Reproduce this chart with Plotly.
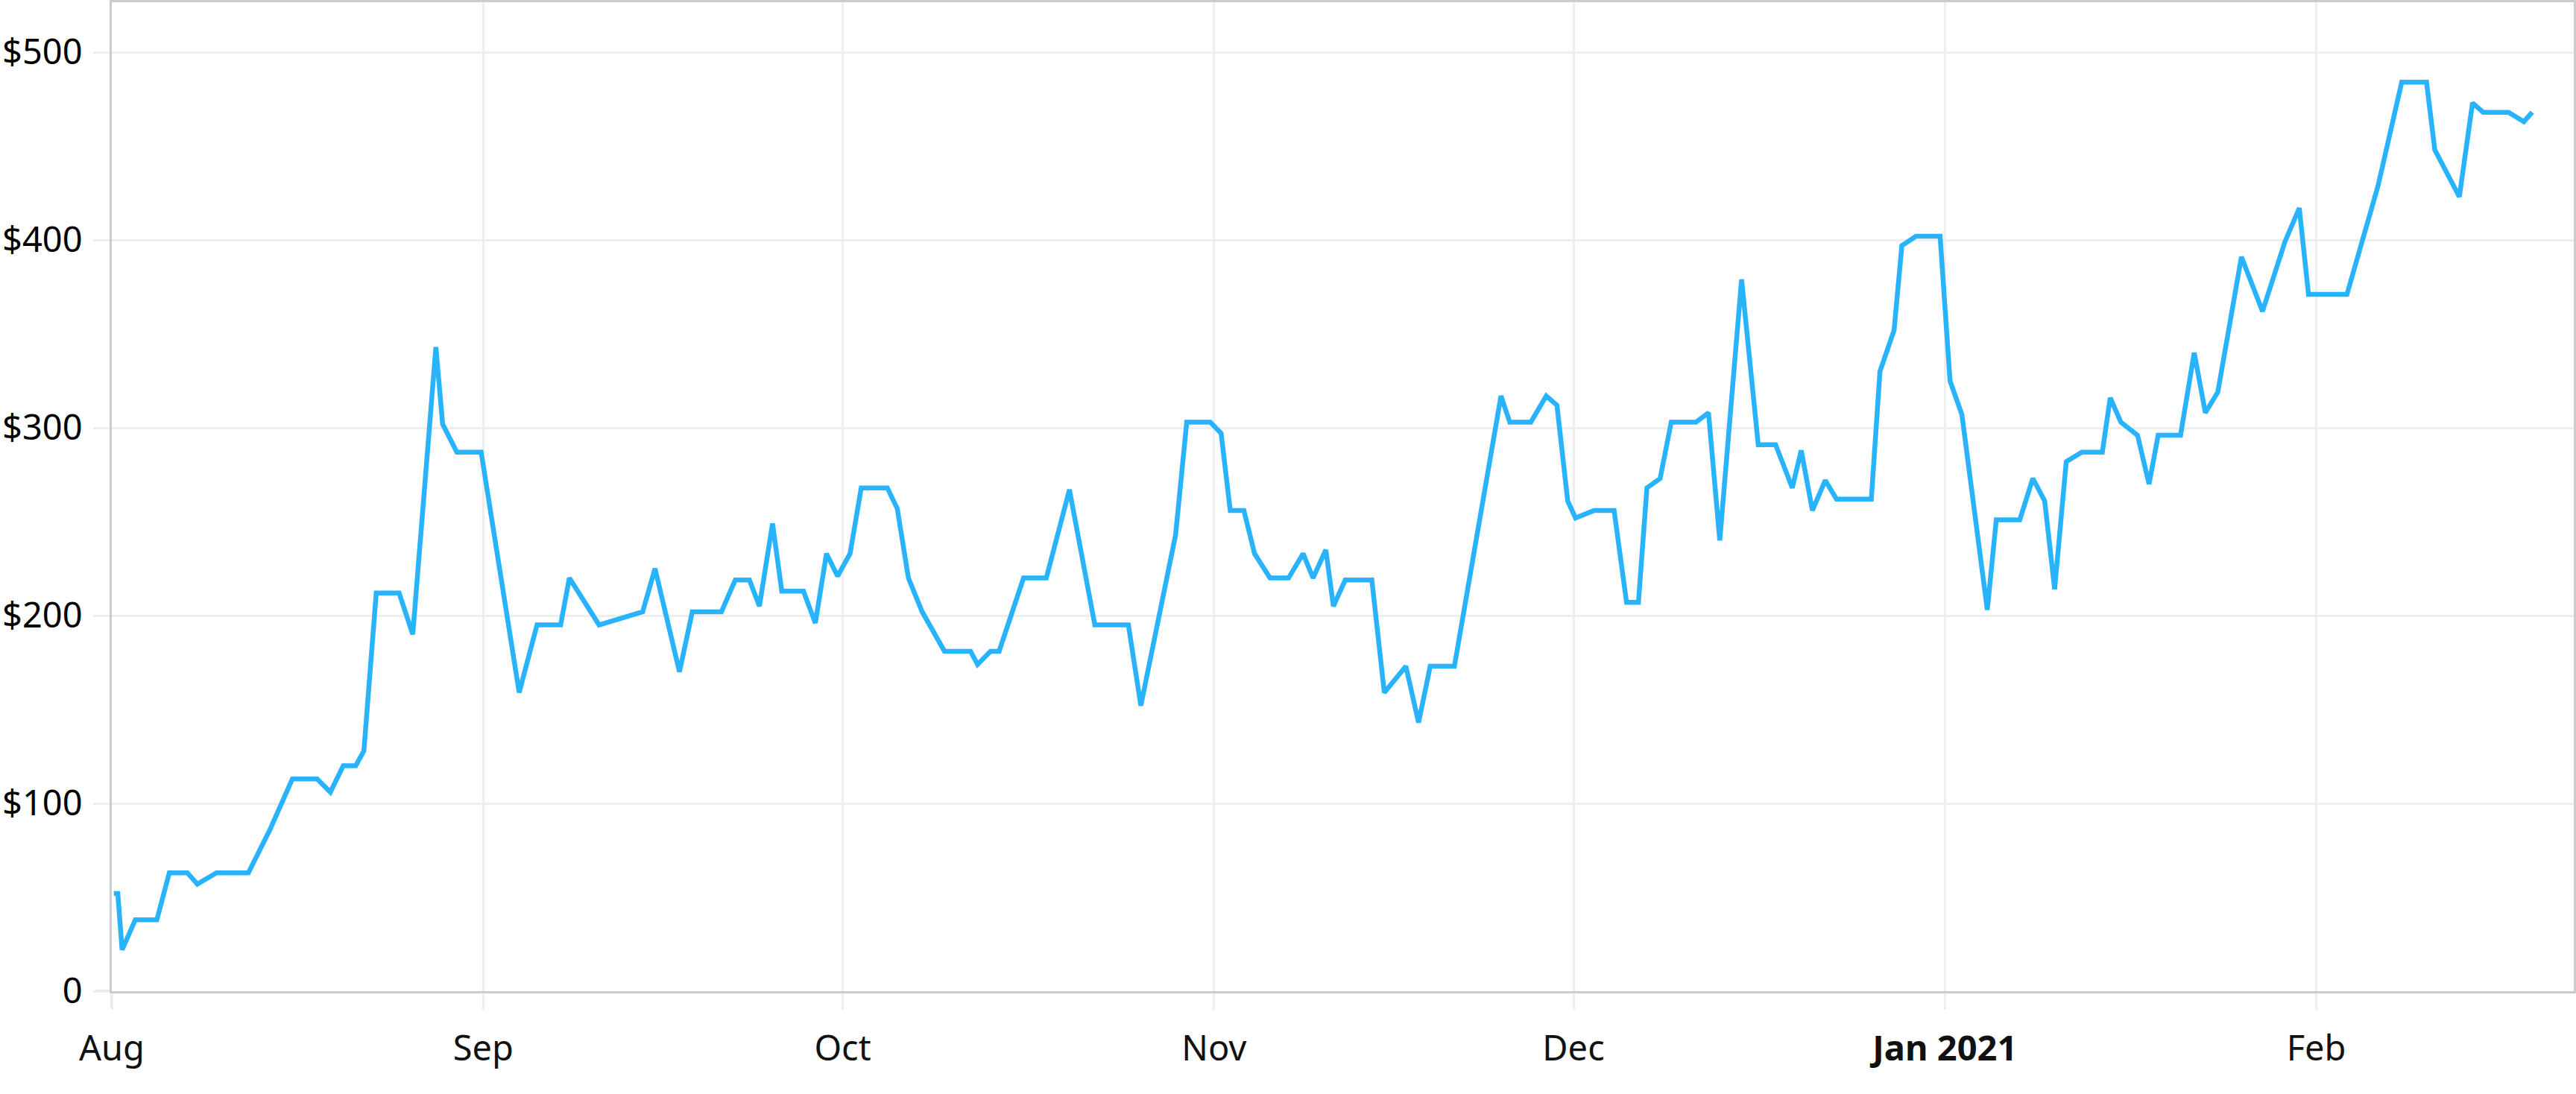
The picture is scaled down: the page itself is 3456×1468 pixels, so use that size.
import pandas as pd
import plotly.graph_objects as go

# Price history.
# x: days elapsed since 1 Aug 2020 (fractional, irregular sampling), y: price in $
day_offsets = [
    0.17, 0.50, 0.86, 1.96, 3.76, 4.80, 6.31, 7.14, 8.74, 11.40,
    13.20, 15.07, 17.14, 18.24, 19.32, 20.36, 21.04, 22.07, 23.98, 25.12,
    27.05, 27.61, 28.80, 30.83, 34.00, 35.49, 37.46, 38.19, 40.67, 44.31,
    45.34, 47.38, 48.45, 50.88, 52.04, 53.22, 54.05, 55.15, 55.92, 57.73,
    58.72, 59.65, 60.58, 61.62, 62.55, 64.73, 65.56, 66.49, 67.64, 69.50,
    71.68, 72.26, 73.34, 74.06, 76.10, 78.00, 79.93, 82.05, 84.85, 85.89,
    88.79, 89.72, 91.69, 92.59, 93.35, 94.49, 95.38, 96.67, 98.22, 99.43,
    100.26, 101.33, 101.96, 102.95, 105.17, 106.21, 108.01, 109.07, 110.04, 112.06,
    115.95, 116.68, 118.44, 119.73, 120.62, 121.52, 122.17, 123.73, 125.39, 126.43,
    127.42, 128.13, 129.23, 130.16, 132.23, 133.27, 134.21, 136.03, 137.42, 138.87,
    140.26, 141.01, 141.94, 143.02, 143.95, 146.86, 147.58, 148.76, 149.41, 150.59,
    152.60, 153.43, 154.42, 156.54, 157.29, 159.25, 160.34, 161.33, 162.16, 163.13,
    164.44, 166.14, 166.80, 167.69, 169.08, 170.04, 170.80, 172.67, 173.81, 174.74,
    175.78, 177.75, 179.51, 181.38, 182.58, 183.35, 186.56, 189.16, 191.13, 193.20,
    193.89, 195.94, 197.04, 197.93, 200.04, 201.33, 202.02,
]
prices = [
    52, 52, 22, 38, 38, 63, 63, 57, 63, 63,
    86, 113, 113, 106, 120, 120, 128, 212, 212, 190,
    343, 302, 287, 287, 159, 195, 195, 220, 195, 202,
    225, 170, 202, 202, 219, 219, 205, 249, 213, 213,
    196, 233, 221, 233, 268, 268, 257, 220, 202, 181,
    181, 174, 181, 181, 220, 220, 267, 195, 195, 152,
    243, 303, 303, 297, 256, 256, 233, 220, 220, 233,
    220, 235, 205, 219, 219, 159, 173, 143, 173, 173,
    317, 303, 303, 317, 312, 261, 252, 256, 256, 207,
    207, 268, 273, 303, 303, 308, 240, 379, 291, 291,
    268, 288, 256, 272, 262, 262, 330, 352, 397, 402,
    402, 325, 307, 203, 251, 251, 273, 261, 214, 282,
    287, 287, 316, 303, 296, 270, 296, 296, 340, 308,
    319, 391, 362, 399, 417, 371, 371, 429, 484, 484,
    448, 423, 473, 468, 468, 463, 468,
]

start_date = pd.Timestamp("2020-08-01")
dates = start_date + pd.to_timedelta(day_offsets, unit="D")

month_ticks = ["2020-08-01", "2020-09-01", "2020-10-01", "2020-11-01",
               "2020-12-01", "2021-01-01", "2021-02-01"]
month_labels = ["Aug", "Sep", "Oct", "Nov", "Dec", "<b>Jan 2021</b>", "Feb"]

price_ticks = [0, 100, 200, 300, 400, 500]
price_labels = ["0", "$100", "$200", "$300", "$400", "$500"]

x_range = [start_date, start_date + pd.Timedelta(days=205.49)]

FONT = "Noto Sans"
GRID = "#eeeeee"
FRAME = "#cccccc"
PLOT_W, PLOT_H, TICK_LEN = 3303, 1327, 22

fig = go.Figure()
fig.add_trace(go.Scatter(
    x=dates, y=prices, mode="lines",
    line=dict(color="#29b3fd", width=6.5),
    hoverinfo="skip", showlegend=False,
))

fig.update_layout(
    width=3456, height=1468,
    margin=dict(l=150, r=3, t=3, b=138, pad=0),
    paper_bgcolor="white", plot_bgcolor="white",
    font=dict(family=FONT, size=47, color="#111111"),
    showlegend=False,
    shapes=[
        # grey frame corner extensions below/left of the origin
        dict(type="line", xref="paper", yref="paper",
             x0=-TICK_LEN / PLOT_W, x1=0, y0=0, y1=0,
             line=dict(color=FRAME, width=3), layer="below"),
        dict(type="line", xref="paper", yref="paper",
             x0=0, x1=0, y0=-TICK_LEN / PLOT_H, y1=0,
             line=dict(color=FRAME, width=3), layer="below"),
    ],
)
fig.update_xaxes(
    type="date", range=x_range, automargin=False,
    tickmode="array", tickvals=month_ticks, ticktext=month_labels,
    showgrid=True, gridcolor=GRID, gridwidth=3,
    ticks="outside", ticklen=TICK_LEN, tickwidth=3, tickcolor=GRID,
    showline=True, linecolor=FRAME, linewidth=3, mirror=True,
    zeroline=False, tickfont=dict(family=FONT, size=47, color="#111111"),
    ticklabelstandoff=12,
)
fig.update_yaxes(
    range=[0, 526.6], automargin=False,
    tickmode="array", tickvals=price_ticks, ticktext=price_labels,
    showgrid=True, gridcolor=GRID, gridwidth=3,
    ticks="outside", ticklen=TICK_LEN, tickwidth=3, tickcolor=GRID,
    showline=True, linecolor=FRAME, linewidth=3, mirror=True,
    zeroline=False, tickfont=dict(family=FONT, size=47, color="#000000"),
    ticklabelstandoff=5,
)

fig.write_html(
    "out.html", include_plotlyjs=True,
    config={"displayModeBar": False},
    post_script="document.body.style.margin='0';document.body.style.overflow='hidden';",
)
